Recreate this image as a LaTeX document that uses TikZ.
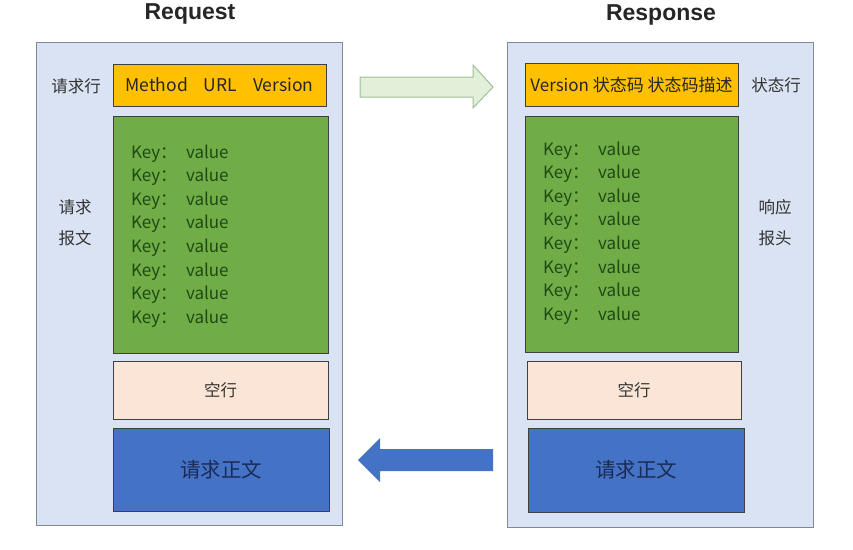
\documentclass[tikz,border=0pt]{standalone}
\usepackage{fontspec}
\setmainfont{Noto Sans CJK SC}
\newfontfamily\titlefont{Liberation Sans}
\definecolor{outerfill}{HTML}{DAE3F3}
\definecolor{outerline}{HTML}{7F8A99}
\definecolor{yel}{HTML}{FFC000}
\definecolor{grn}{HTML}{70AD47}
\definecolor{grntext}{HTML}{1F4A14}
\definecolor{peach}{HTML}{FBE5D6}
\definecolor{blu}{HTML}{4472C4}
\definecolor{blutext}{HTML}{1B2B57}
\definecolor{lbl}{HTML}{333333}
\definecolor{arrgrn}{HTML}{E2F0D9}
\definecolor{arrgrnline}{HTML}{A3BE9A}
\begin{document}
\begin{tikzpicture}[x=1pt,y=-1pt,
  every node/.style={inner sep=0pt,outer sep=0pt},
  outerbox/.style={draw=outerline,fill=outerfill,line width=1pt},
  innerbox/.style={draw=black!75,line width=1pt,anchor=north west},
  lbltext/.style={text=lbl,font=\fontsize{16.5}{18}\selectfont},
  keytext/.style={text=grntext,font=\fontsize{17}{18}\selectfont,anchor=base west},
  titletext/.style={font=\titlefont\bfseries\fontsize{23}{26}\selectfont,text=black!85}]
\useasboundingbox (0,0) rectangle (853,549);
\fill[white] (0,0) rectangle (853,549);
% titles
\node[titletext] (treq) at (190,14) {Request};
\node[titletext] (tres) at (661,15) {Response};
% outer boxes
\draw[outerbox] (36,42) rectangle (342,525);
\draw[outerbox] (507,42) rectangle (813,527);
% left inner boxes
\node[innerbox,fill=yel,minimum width=213pt,minimum height=42pt] (lyel) at (113,64) {};
\node[text=black!85,font=\fontsize{17.5}{18}\selectfont] at (lyel.center) {Method\hspace{16pt}URL\hspace{16pt}Version};
\node[innerbox,fill=grn,minimum width=215pt,minimum height=237pt] (lgrn) at (113,116) {};
\node[innerbox,fill=peach,minimum width=215pt,minimum height=58pt] (lpea) at (113,361) {};
\node[lbltext] at (lpea.center) {空行};
\node[innerbox,fill=blu,minimum width=216pt,minimum height=83pt] (lblu) at (113,428) {};
\node[text=blutext,font=\fontsize{20.5}{22}\selectfont] at (lblu.center) {请求正文};
% left labels
\node[lbltext] (lreqline) at (76,86) {请求行};
\node[lbltext] (lmsg1) at (75,207) {请求};
\node[lbltext] (lmsg2) at (75,238) {报文};
% right inner boxes
\node[innerbox,fill=yel,minimum width=213pt,minimum height=43pt] (ryel) at (525,63) {};
\node[text=black!85,font=\fontsize{17}{18}\selectfont] at (ryel.center) {Version 状态码 状态码描述};
\node[innerbox,fill=grn,minimum width=213pt,minimum height=236pt] (rgrn) at (525,116) {};
\node[innerbox,fill=peach,minimum width=214pt,minimum height=58pt] (rpea) at (527,361) {};
\node[lbltext] at (rpea.center) {空行};
\node[innerbox,fill=blu,minimum width=216pt,minimum height=84pt] (rblu) at (528,428) {};
\node[text=blutext,font=\fontsize{20.5}{22}\selectfont] at (rblu.center) {请求正文};
% right labels
\node[lbltext] (rstatus) at (776,85) {状态行};
\node[lbltext] (rhead1) at (775,207) {响应};
\node[lbltext] (rhead2) at (775,238) {报头};
% key-value lines
\foreach \i in {0,...,7} {
  \node[keytext] (lk\i) at (131,{158+23.6*\i}) {Key：};
  \node[keytext] (lv\i) at (186,{158+23.6*\i}) {value};
  \node[keytext] (rk\i) at (543,{155+23.6*\i}) {Key：};
  \node[keytext] (rv\i) at (598,{155+23.6*\i}) {value};
}
% block arrows
\draw[fill=arrgrn,draw=arrgrnline,line width=1pt]
  (360,77) -- (473,77) -- (473,65) -- (493,87) -- (473,108) -- (473,97) -- (360,97) -- cycle;
\fill[blu]
  (493,449) -- (380,449) -- (380,438) -- (358,460) -- (380,482) -- (380,471) -- (493,471) -- cycle;
\end{tikzpicture}
\end{document}
